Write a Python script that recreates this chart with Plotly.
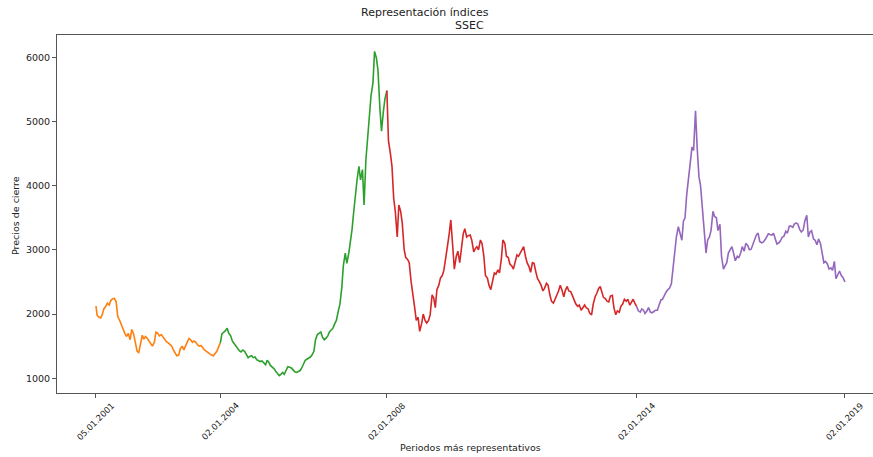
import pandas as pd
import plotly.graph_objects as go

# Semi-monthly closing levels of the SSEC index (1st and 15th of each month)
close_2001 = [2125, 1980, 1950, 1940, 1990, 2080, 2120, 2170, 2140, 2210, 2240, 2245,
              2190, 1960, 1900, 1830, 1780, 1700, 1650, 1700, 1600, 1760, 1690, 1570]
close_2002 = [1420, 1400, 1560, 1670, 1610, 1650, 1620, 1580, 1540, 1500, 1560, 1720,
              1700, 1660, 1680, 1640, 1600, 1570, 1550, 1520, 1500, 1440, 1400, 1350]
close_2003 = [1360, 1460, 1500, 1440, 1500, 1560, 1620, 1600, 1560, 1580, 1560, 1520,
              1500, 1510, 1470, 1440, 1420, 1400, 1380, 1360, 1350, 1380, 1420, 1480]
close_2004 = [1550, 1690, 1720, 1740, 1780, 1700, 1660, 1580, 1540, 1500, 1450, 1430,
              1410, 1440, 1420, 1380, 1320, 1340, 1350, 1320, 1330, 1290, 1270, 1260]
close_2005 = [1270, 1240, 1210, 1280, 1250, 1200, 1180, 1150, 1110, 1080, 1040, 1060,
              1090, 1060, 1130, 1180, 1170, 1160, 1130, 1100, 1090, 1100, 1120, 1160]
close_2006 = [1240, 1280, 1300, 1310, 1330, 1360, 1420, 1600, 1680, 1700, 1720, 1640,
              1600, 1620, 1660, 1720, 1760, 1780, 1850, 1900, 2050, 2150, 2400, 2750]
close_2007 = [2950, 2790, 2950, 3100, 3310, 3570, 3880, 4100, 4300, 4090, 4250, 3700,
              4400, 4700, 5100, 5400, 5600, 6092, 5990, 5800, 5200, 4850, 5150, 5350]
close_2008 = [5480, 4700, 4500, 4300, 3800, 3600, 3200, 3700, 3600, 3420, 3000, 2880,
              2850, 2800, 2500, 2350, 2100, 1900, 1950, 1730, 1850, 2000, 1900, 1860]
close_2009 = [1900, 1990, 2300, 2250, 2100, 2380, 2450, 2560, 2600, 2680, 2850, 3050,
              3250, 3466, 3050, 2700, 2900, 2980, 2800, 3050, 3250, 3330, 3200, 3220]
close_2010 = [3230, 3150, 2970, 3020, 3050, 3000, 3154, 3100, 2900, 2600, 2560, 2450,
              2380, 2500, 2640, 2620, 2690, 2640, 2850, 3154, 3100, 2900, 2880, 2780]
close_2011 = [2750, 2700, 2800, 2920, 2900, 2950, 3000, 3050, 2900, 2800, 2740, 2650,
              2800, 2790, 2650, 2550, 2500, 2450, 2360, 2400, 2480, 2450, 2300, 2200]
close_2012 = [2170, 2220, 2300, 2360, 2450, 2380, 2270, 2370, 2430, 2360, 2350, 2290,
              2220, 2160, 2120, 2140, 2060, 2100, 2140, 2100, 2080, 2010, 1986, 2150]
close_2013 = [2270, 2320, 2400, 2430, 2330, 2260, 2240, 2200, 2190, 2280, 2290, 2100,
              1990, 2050, 2030, 2120, 2160, 2230, 2200, 2230, 2140, 2180, 2230, 2170]
close_2014 = [2115, 2050, 2030, 2080, 2060, 2010, 2050, 2100, 2030, 2020, 2040, 2060,
              2060, 2150, 2220, 2230, 2300, 2340, 2380, 2400, 2470, 2700, 2950, 3200]
close_2015 = [3360, 3250, 3150, 3450, 3500, 3850, 4100, 4300, 4600, 4550, 5166, 4600,
              4140, 4000, 3673, 3300, 2950, 3150, 3200, 3300, 3600, 3520, 3500, 3300]
close_2016 = [3400, 2900, 2700, 2750, 2800, 2950, 3000, 3050, 2940, 2830, 2900, 2880,
              2950, 3050, 2980, 3100, 3070, 3000, 3010, 3080, 3150, 3230, 3260, 3130]
close_2017 = [3110, 3120, 3160, 3220, 3250, 3240, 3230, 3260, 3150, 3090, 3110, 3140,
              3200, 3210, 3290, 3260, 3370, 3370, 3350, 3400, 3420, 3400, 3320, 3280]
close_2018 = [3310, 3450, 3540, 3200, 3280, 3300, 3170, 3150, 3080, 3170, 3100, 2980,
              2800, 2820, 2780, 2700, 2720, 2680, 2820, 2550, 2620, 2670, 2600, 2570]
close_2019 = [2500]

closes = (close_2001 + close_2002 + close_2003 + close_2004 + close_2005 + close_2006
          + close_2007 + close_2008 + close_2009 + close_2010 + close_2011 + close_2012
          + close_2013 + close_2014 + close_2015 + close_2016 + close_2017 + close_2018
          + close_2019)

dates = pd.date_range("2001-01-01", "2019-01-01", freq="SMS").tolist()
dates[0] = pd.Timestamp("2001-01-05")
dates[-1] = pd.Timestamp("2019-01-02")
assert len(dates) == len(closes)

series = pd.Series(closes, index=pd.DatetimeIndex(dates))

# Representative periods and their colours
period_bounds = ["2001-01-01", "2004-01-01", "2008-01-01", "2014-01-01", "2019-01-31"]
period_colors = ["#ff7f0e", "#2ca02c", "#d62728", "#9467bd"]

tick_dates = ["2001-01-05", "2004-01-02", "2008-01-02", "2014-01-02", "2019-01-02"]
tick_labels = ["05.01.2001", "02.01.2004", "02.01.2008", "02.01.2014", "02.01.2019"]
y_ticks = [1000, 2000, 3000, 4000, 5000, 6000]

FONT = "DejaVu Sans"
TXT = "#222222"
AX = "#555555"

fig = go.Figure()
for i, color in enumerate(period_colors):
    lo, hi = pd.Timestamp(period_bounds[i]), pd.Timestamp(period_bounds[i + 1])
    seg = series[(series.index >= lo) & (series.index <= hi)]
    fig.add_trace(go.Scatter(
        x=seg.index, y=seg.values, mode="lines",
        line=dict(color=color, width=1.6), showlegend=False,
    ))

W, H = 873, 457
L, R, T, B = 57, 0, 35, 64
plot_h = H - T - B


def py(y_px):
    return (H - B - y_px) / plot_h


def px(x_px):
    return (x_px - L) / (W - L - R)


annotations = [
    dict(text="Representación índices", xref="paper", yref="paper",
         x=px(425), y=py(12.5), xanchor="center", yanchor="middle",
         showarrow=False, font=dict(size=11, color=TXT)),
    dict(text="SSEC", xref="paper", yref="paper",
         x=px(469), y=py(25.5), xanchor="center", yanchor="middle",
         showarrow=False, font=dict(size=11, color=TXT)),
    dict(text="Periodos más representativos", xref="paper", yref="paper",
         x=px(470), y=py(447), xanchor="center", yanchor="middle",
         showarrow=False, font=dict(size=9.5, color=TXT)),
    dict(text="Precios de cierre", xref="paper", yref="paper",
         x=px(15), y=py(216), xanchor="center", yanchor="middle",
         textangle=-90, showarrow=False, font=dict(size=9.5, color=TXT)),
]

# Rotated date labels centred under their ticks
for d, lab in zip(tick_dates, tick_labels):
    annotations.append(dict(
        text=lab, xref="x", yref="paper", x=pd.Timestamp(d), y=py(421),
        xanchor="center", yanchor="middle", textangle=-45,
        showarrow=False, font=dict(size=8.5, color=TXT),
    ))

fig.update_layout(
    width=W, height=H,
    margin=dict(l=L, r=R, t=T, b=B),
    paper_bgcolor="white", plot_bgcolor="white",
    font=dict(family=FONT, color=TXT),
    xaxis=dict(
        type="date", range=["2000-01-29", "2019-09-05"],
        tickvals=pd.to_datetime(tick_dates), showticklabels=False,
        ticks="outside", ticklen=4, tickcolor=AX,
        showline=True, linecolor=AX, linewidth=1, mirror=True,
        showgrid=False, zeroline=False,
    ),
    yaxis=dict(
        range=[770, 6347], tickvals=y_ticks,
        tickfont=dict(size=9.5, color=TXT),
        ticks="outside", ticklen=4, tickcolor=AX,
        showline=True, linecolor=AX, linewidth=1,
        showgrid=False, zeroline=False,
    ),
    annotations=annotations,
)

fig.write_html("out.html")
